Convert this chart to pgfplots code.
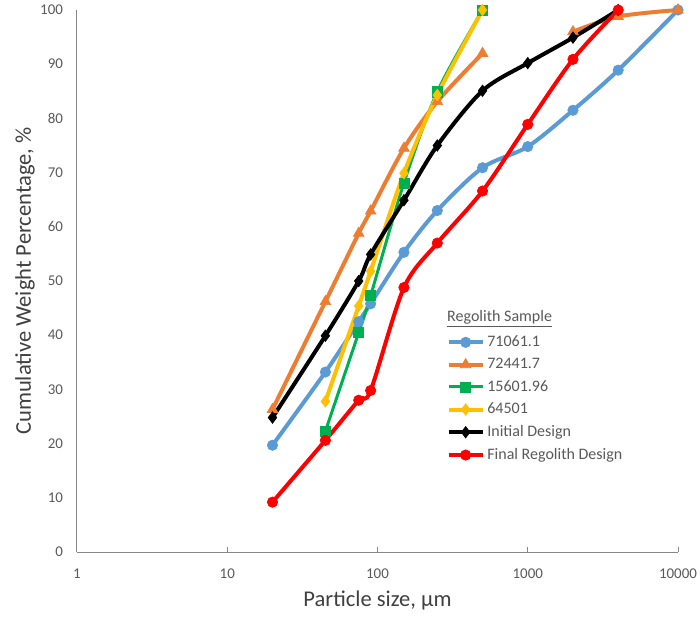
\documentclass[border=0pt]{standalone}
\usepackage{pgfplots}
\pgfplotsset{compat=1.18}
\usepackage{fontspec}
\setmainfont{Carlito}

\definecolor{cblue}{HTML}{5B9BD5}
\definecolor{corange}{HTML}{ED7D31}
\definecolor{cgreen}{HTML}{00B050}
\definecolor{cyellow}{HTML}{FFC000}
\definecolor{cred}{HTML}{FF0000}
\definecolor{tickgray}{HTML}{595959}
\definecolor{titlegray}{HTML}{404040}
\definecolor{axisgray}{HTML}{868686}

\begin{document}
\begin{tikzpicture}
\begin{axis}[
    name=ax,
    scale only axis, width=450.75pt, height=406.5pt,
    xmode=log, xmin=1, xmax=10000, ymin=0, ymax=100,
    axis x line*=bottom, axis y line*=left,
    axis line style={-, draw=axisgray, line width=0.75pt},
    xtick={1,10,100,1000,10000},
    xticklabels={1,10,100,1000,10000},
    ytick={0,10,20,30,40,50,60,70,80,90,100},
    yticklabels={0,10,20,30,40,50,60,70,80,90,100},
    minor xtick={}, xminorticks=false,
    tick align=inside, major tick length=3.4pt,
    xtick style={draw=axisgray, line width=0.75pt},
    ytick style={draw=none},
    ticklabel style={font=\fontsize{11.2}{13}\selectfont, text=tickgray},
    x tick label style={yshift=-9pt},
    y tick label style={xshift=-7pt},
    xlabel={Particle size, µm},
    ylabel={Cumulative Weight Percentage, \%},
    every axis x label/.style={at={(axis description cs:0.5,-0.0886)}, anchor=center,
        font=\fontsize{16.9}{19}\selectfont, text=titlegray},
    every axis y label/.style={at={(axis description cs:-0.0865,0.5)}, anchor=center, rotate=90,
        font=\fontsize{16.9}{19}\selectfont, text=titlegray},
    legend style={at={(rel axis cs:0.608,0.409)}, anchor=north west, draw=none, fill=none,
        font=\fontsize{12}{14}\selectfont, text=tickgray, row sep=3.3pt},
    legend cell align=left,
    legend image code/.code={\draw[mark repeat=2, mark phase=2]
        plot coordinates {(0pt,0pt) (12.75pt,0pt) (25.5pt,0pt)};},
    every axis plot/.append style={line width=3pt, smooth},
    clip=false,
]
% 71061.1
\addplot[cblue, mark=*, mark size=3.9pt, mark options={line width=0.5pt}] coordinates {
    (20,19.7) (45,33.2) (75,42.5) (90,45.8) (150,55.3) (250,63.0)
    (500,70.9) (1000,74.8) (2000,81.5) (4000,88.9) (10000,100)
};
\addlegendentry{71061.1}
% 72441.7 (no value at 1000)
\addplot[corange, mark=triangle*, mark size=4.6pt, mark options={line width=0.5pt}] coordinates {
    (20,26.3) (45,46.2) (75,58.8) (90,62.9) (150,74.5) (250,83.1) (500,92.0)
};
\addlegendentry{72441.7}
\addplot[corange, mark=triangle*, mark size=4.6pt, mark options={line width=0.5pt}, forget plot] coordinates {
    (2000,96.0) (4000,98.8) (10000,100)
};
% 15601.96
\addplot[cgreen, line width=2.25pt, mark=square*, mark size=3.8pt, mark options={line width=0.5pt}] coordinates {
    (45,22.3) (75,40.5) (90,47.3) (150,68.1) (250,84.9) (500,100)
};
\addlegendentry{15601.96}
% 64501
\addplot[cyellow, mark=diamond*, mark size=4.3pt, mark options={line width=0.5pt}] coordinates {
    (45,27.8) (75,45.4) (90,51.8) (150,69.9) (250,84.3) (500,100)
};
\addlegendentry{64501}
% Initial Design
\addplot[black, mark=diamond*, mark size=4.3pt, mark options={line width=0.5pt}] coordinates {
    (20,24.8) (45,39.9) (75,50.0) (90,54.9) (150,64.9) (250,75.0)
    (500,85.1) (1000,90.2) (2000,94.9) (4000,100)
};
\addlegendentry{Initial Design}
% Final Regolith Design
\addplot[cred, mark=*, mark size=3.9pt, mark options={line width=0.5pt}] coordinates {
    (20,9.2) (45,20.6) (75,28.0) (90,29.8) (150,48.8) (250,57.0)
    (500,66.6) (1000,78.9) (2000,90.9) (4000,100)
};
\addlegendentry{Final Regolith Design}
\node[anchor=west, font=\fontsize{12}{14}\selectfont, text=tickgray, inner sep=0pt]
    at (rel axis cs:0.6156,0.4299) {\underline{Regolith Sample}};
\end{axis}
\pgfresetboundingbox
\path ([shift={(-57.75pt,-50.25pt)}]ax.south west) rectangle ([shift={(467.25pt,414pt)}]ax.south west);
\end{tikzpicture}
\end{document}
